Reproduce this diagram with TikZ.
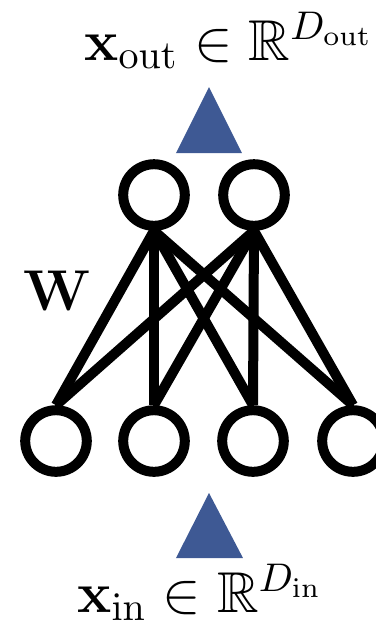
\documentclass[tikz,border=0pt]{standalone}
\usepackage{amsmath,amssymb}
\usepackage{bm}
\usepackage{xcolor}
\usetikzlibrary{positioning}
\definecolor{triblue}{RGB}{62,89,148}

\begin{document}
\begin{tikzpicture}[x=0.25pt, y=-0.25pt,
        every node/.style={font=\fontsize{14.4}{17}\selectfont},
        unit/.style={circle, draw=black, line width=2.5pt, minimum size=15.4pt,
        inner sep=0pt, fill=white}]
        \useasboundingbox (0,0) rectangle (376,625);
        % input layer and output layer
        \foreach \i/\x in {1/56,2/154,3/253,4/353}
        \node[unit] (in\i) at (\x,441) {};
        \foreach \j/\x in {1/154,2/254}
        \node[unit] (out\j) at (\x,195) {};
        % weights, every input to every output
        \foreach \i in {1,...,4}
        \foreach \j in {1,2}
        \draw[line width=2.5pt] (in\i.north) -- (out\j.south);
        \node[anchor=base] (W) at (57,310) {$\mathbf{W}$};
        % arrows in and out
        \fill[triblue] (176,153) -- (209,87) -- (242,153) -- cycle;
        \fill[triblue] (176,558) -- (209,493) -- (243,558) -- cycle;
        \node[anchor=base] (xout) at (229,60)
        {$\mathbf{x}_{\mathrm{out}} \in \mathbb{R}^{D_{\mathrm{out}}}$};
        \node[anchor=base] (xin) at (200,612)
        {$\mathbf{x}_{\mathrm{in}} \in \mathbb{R}^{D_{\mathrm{in}}}$};
    \end{tikzpicture}
\end{document}
